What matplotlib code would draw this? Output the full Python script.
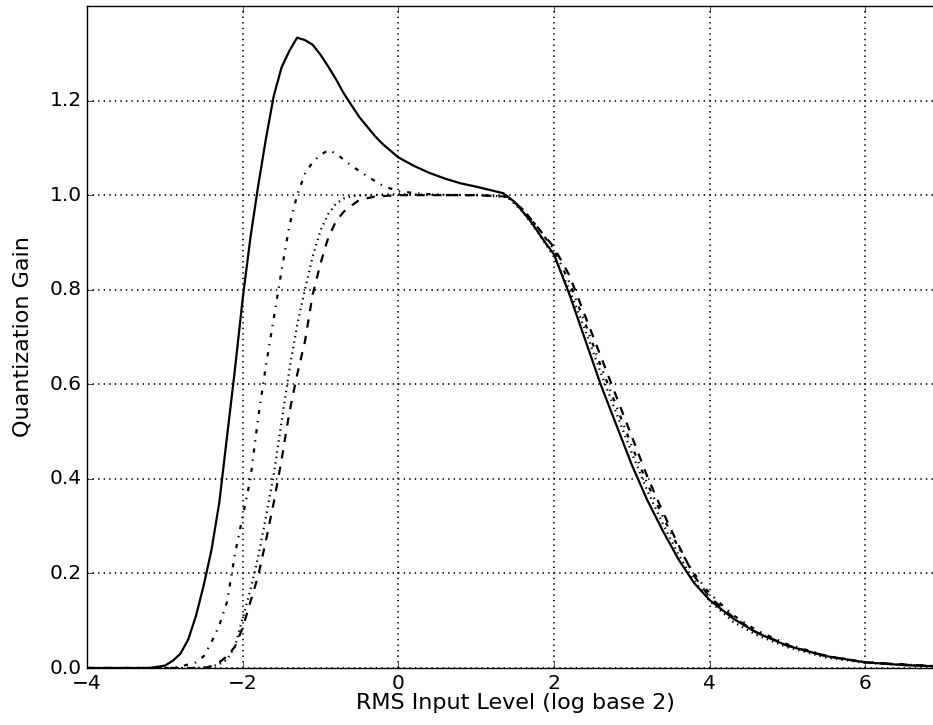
import matplotlib
matplotlib.use("Agg")
import matplotlib.pyplot as plt

# RMS input level (log base 2) and quantization gain
x_solid = [-4.0, -3.2, -3.0, -2.9, -2.8, -2.7, -2.6, -2.5, -2.4, -2.3, -2.2, -2.1, -2.0,
           -1.9, -1.8, -1.7, -1.6, -1.5, -1.4, -1.3, -1.2, -1.1, -1.0, -0.9, -0.8, -0.7,
           -0.6, -0.5, -0.4, -0.3, -0.2, 0.0, 0.2, 0.4, 0.6, 0.8, 1.0, 1.2, 1.35, 1.5,
           1.7, 1.9, 2.0, 2.2, 2.4, 2.6, 2.8, 3.0, 3.2, 3.4, 3.6, 3.8, 4.0, 4.3, 4.6,
           5.0, 5.5, 6.0, 6.5, 7.0]
y_solid = [0.0, 0.0, 0.005, 0.015, 0.03, 0.06, 0.11, 0.175, 0.25, 0.35, 0.49, 0.63, 0.78,
           0.91, 1.02, 1.12, 1.21, 1.27, 1.305, 1.333, 1.328, 1.318, 1.297, 1.272, 1.245, 1.215,
           1.19, 1.165, 1.145, 1.125, 1.108, 1.08, 1.062, 1.047, 1.035, 1.025, 1.018, 1.01, 1.004, 0.985,
           0.945, 0.897, 0.875, 0.79, 0.695, 0.60, 0.515, 0.43, 0.355, 0.29, 0.23, 0.18, 0.144, 0.105, 0.075,
           0.047, 0.025, 0.012, 0.006, 0.003]

x_dashdot = [-4.0, -2.9, -2.8, -2.6, -2.5, -2.4, -2.3, -2.2, -2.1, -2.0, -1.9, -1.8, -1.7,
             -1.6, -1.5, -1.4, -1.3, -1.2, -1.1, -1.0, -0.9, -0.8, -0.7, -0.6, -0.4, -0.2,
             0.0, 0.3, 0.6, 1.0, 1.4, 1.6, 1.8, 2.0, 2.2, 2.4, 2.6, 2.8, 3.0, 3.2, 3.4,
             3.6, 3.8, 4.0, 4.3, 4.6, 5.0, 5.5, 6.0, 7.0]
y_dashdot = [0.0, 0.0, 0.003, 0.012, 0.025, 0.055, 0.09, 0.14, 0.24, 0.32, 0.40, 0.53, 0.64,
             0.74, 0.84, 0.935, 1.0, 1.045, 1.07, 1.085, 1.095, 1.088, 1.075, 1.062, 1.04, 1.02,
             1.008, 1.003, 1.0, 1.0, 0.997, 0.97, 0.93, 0.885, 0.815, 0.73, 0.64, 0.555, 0.47, 0.39, 0.32,
             0.255, 0.20, 0.158, 0.112, 0.08, 0.05, 0.026, 0.012, 0.003]

x_dotted = [-4.0, -2.6, -2.4, -2.3, -2.2, -2.1, -2.0, -1.9, -1.8, -1.7, -1.6, -1.5, -1.4,
            -1.3, -1.2, -1.1, -1.0, -0.9, -0.8, -0.7, -0.6, -0.4, 0.0, 1.0, 1.4, 1.6, 1.8,
            2.0, 2.2, 2.4, 2.6, 2.8, 3.0, 3.2, 3.4, 3.6, 3.8, 4.0, 4.3, 4.6, 5.0, 5.5,
            6.0, 7.0]
y_dotted = [0.0, 0.0, 0.003, 0.008, 0.018, 0.045, 0.105, 0.165, 0.235, 0.32, 0.41, 0.52, 0.63,
            0.725, 0.80, 0.87, 0.925, 0.96, 0.982, 0.993, 0.998, 1.0, 1.002, 1.0, 0.996, 0.965, 0.92,
            0.87, 0.80, 0.715, 0.625, 0.54, 0.455, 0.375, 0.305, 0.24, 0.185, 0.142, 0.098, 0.07, 0.044, 0.022,
            0.011, 0.003]

x_dashed = [-4.0, -2.5, -2.4, -2.3, -2.2, -2.1, -2.0, -1.9, -1.8, -1.7, -1.6, -1.5, -1.4,
            -1.3, -1.2, -1.1, -1.0, -0.9, -0.8, -0.7, -0.6, -0.5, -0.3, 0.0, 1.0, 1.4, 1.6,
            1.8, 2.0, 2.2, 2.4, 2.6, 2.8, 3.0, 3.2, 3.4, 3.6, 3.8, 4.0, 4.3, 4.6, 5.0,
            5.5, 6.0, 7.0]
y_dashed = [0.0, 0.0, 0.004, 0.012, 0.025, 0.045, 0.085, 0.14, 0.195, 0.27, 0.35, 0.44, 0.54,
            0.62, 0.69, 0.79, 0.855, 0.91, 0.945, 0.965, 0.978, 0.99, 0.997, 1.0, 1.0, 0.997, 0.97,
            0.93, 0.89, 0.83, 0.745, 0.66, 0.575, 0.49, 0.405, 0.33, 0.26, 0.195, 0.15, 0.108, 0.076, 0.048,
            0.025, 0.012, 0.003]

y_ticks = [0.0, 0.2, 0.4, 0.6, 0.8, 1.0, 1.2]
x_ticks = [-4, -2, 0, 2, 4, 6]

plt.style.use('classic')
fig = plt.figure(figsize=(9.33, 7.25), dpi=100, facecolor='white')
# right edge of the axes (x=7) falls just outside the picture, as in the original
ax = fig.add_axes([87 / 933, 57 / 725, 856 / 933, 662 / 725])

ax.plot(x_solid, y_solid, 'k-', lw=1.6)
ax.plot(x_dashdot, y_dashdot, 'k-.', lw=1.6)
ax.plot(x_dotted, y_dotted, 'k:', lw=1.6)
ax.plot(x_dashed, y_dashed, 'k--', lw=1.6)

ax.set_xlim(-4, 7)
ax.set_ylim(0, 1.4)
ax.set_xticks(x_ticks)
ax.set_yticks(y_ticks)
ax.grid(True, color='k', linestyle=':', lw=1.2)
ax.tick_params(labelsize=14.5)
ax.set_xlabel('RMS Input Level (log base 2)', fontsize=16, labelpad=0)
ax.set_ylabel('Quantization Gain', fontsize=16, labelpad=12)

fig.savefig('out.png', dpi=100, facecolor='white')
